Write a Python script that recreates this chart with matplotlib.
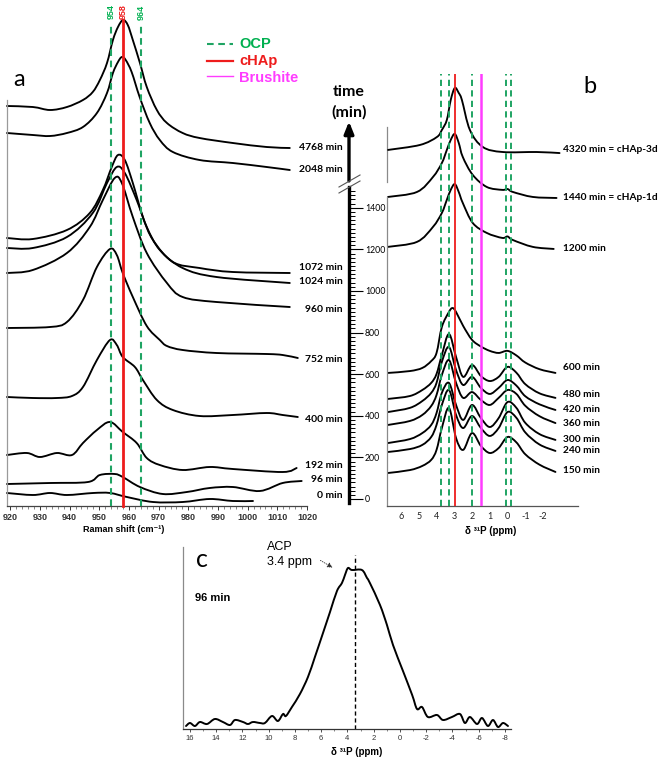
import matplotlib
matplotlib.use("Agg")
import matplotlib.pyplot as plt
from matplotlib.lines import Line2D
from matplotlib.path import Path
from matplotlib.patches import PathPatch, FancyArrowPatch
from matplotlib.ticker import MultipleLocator, FixedLocator
import numpy as np

# ---------------- data ----------------
# panel a : Raman spectra (x = Raman shift cm-1, y = stacked intensity, a.u.)
a_x_4768 = [918.9, 927.6, 933.4, 939.1, 944.5, 947.8, 950.2, 952.6, 954.6, 956.3, 958.0, 959.6, 961.3, 963.7, 966.0, 969.4, 972.8, 978.1, 983.8, 995.0, 1006.4, 1014.2]
a_y_4768 = [400, 399, 396, 399, 406, 414, 426, 443, 466, 479, 486, 481, 466, 443, 419, 396, 383, 373, 368, 363, 359, 358]
a_x_2048 = [918.9, 927.6, 933.4, 939.1, 944.5, 949.2, 952.6, 954.6, 956.3, 957.6, 958.9, 960.9, 963.6, 967.0, 970.4, 974.8, 983.8, 995.0, 1006.4, 1014.2]
a_y_2048 = [373, 371, 370, 373, 379, 393, 413, 433, 444, 449, 446, 434, 409, 383, 366, 354, 346, 343, 339, 336]
a_x_1072 = [918.9, 927.6, 939.1, 946.8, 951.2, 954.2, 956.3, 958.6, 961.3, 964.7, 968.1, 974.8, 983.8, 995.0, 1014.2]
a_y_1072 = [268, 267, 276, 293, 316, 339, 351, 346, 323, 289, 266, 244, 238, 234, 233]
a_x_1024 = [918.9, 927.6, 939.1, 947.8, 952.6, 955.9, 958.6, 962.6, 966.0, 970.4, 978.1, 989.5, 1014.2]
a_y_1024 = [258, 258, 269, 293, 323, 339, 333, 306, 279, 256, 238, 229, 223]
a_x_960 = [918.9, 927.6, 939.1, 946.8, 951.2, 955.2, 957.6, 961.3, 966.0, 972.8, 978.1, 989.5, 1014.2]
a_y_960 = [233, 236, 253, 279, 306, 328, 323, 289, 253, 223, 209, 204, 199]
a_x_752 = [918.9, 933.4, 939.1, 944.5, 949.2, 953.6, 955.9, 957.9, 961.3, 966.0, 970.4, 972.8, 978.1, 989.5, 1006.4, 1011.8, 1016.9]
a_y_752 = [178, 179, 184, 206, 239, 257, 251, 233, 209, 180, 166, 160, 156, 153, 152, 151, 148]
a_x_400 = [918.9, 927.6, 935.7, 940.8, 944.5, 949.2, 953.6, 955.9, 957.9, 962.0, 964.7, 969.4, 974.8, 983.8, 995.0, 1006.4, 1011.8, 1016.9]
a_y_400 = [109, 108, 108, 110, 119, 146, 166, 161, 149, 139, 126, 106, 96, 90, 91, 93, 91, 89]
a_x_192 = [918.9, 925.6, 930.0, 935.7, 940.8, 944.5, 949.2, 953.6, 957.9, 962.6, 966.0, 970.4, 978.1, 987.2, 995.0, 1011.8, 1016.5]
a_y_192 = [51, 53, 49, 53, 51, 63, 76, 84, 74, 63, 48, 41, 36, 39, 37, 34, 38]
a_x_96 = [918.9, 933.4, 946.2, 950.2, 955.2, 957.9, 963.7, 971.4, 979.5, 987.2, 995.0, 1004.1, 1011.8, 1018.2]
a_y_96 = [22, 23, 24, 31, 32, 29, 19, 12, 14, 18, 19, 15, 23, 25]
a_x_0 = [918.9, 927.6, 933.4, 939.1, 947.9, 953.6, 959.3, 968.1, 978.1, 987.2, 995.0, 1001.8]
a_y_0 = [13, 11, 13, 11, 13, 13, 9, 4, 4, 7, 5, 5]
a_labels = ["4768 min", "2048 min", "1072 min", "1024 min", "960 min", "752 min", "400 min", "192 min", "96 min", "0 min"]
a_label_y = [358, 336, 238, 224, 197, 146, 86, 40, 26, 11]
a_ticks = [920, 930, 940, 950, 960, 970, 980, 990, 1000, 1010, 1020]
a_ocp = [954, 964]
a_chap = 958

# panel b : 31P NMR spectra stacked on the time axis (x = ppm, y = time-scaled offset)
b_x_low = [6.73, 5.5, 4.8, 4.3, 4.0, 3.7, 3.3, 2.9, 2.5, 2.0, 1.5, 1.0, 0.5, 0.0, -0.5, -1.0, -1.8, -2.7]
b_y_150 = [125, 139, 159, 188, 236, 341, 438, 293, 236, 317, 255, 221, 245, 298, 272, 215, 165, 130]
b_y_240 = [226, 240, 260, 298, 356, 452, 524, 404, 341, 399, 341, 303, 341, 418, 390, 320, 262, 231]
b_y_300 = [269, 288, 317, 356, 413, 510, 558, 452, 380, 452, 389, 346, 389, 466, 438, 366, 312, 284]
b_y_360 = [356, 375, 404, 447, 500, 596, 668, 558, 486, 514, 476, 452, 486, 524, 505, 448, 398, 365]
b_y_420 = [418, 438, 471, 510, 558, 659, 731, 620, 548, 587, 534, 505, 534, 572, 545, 494, 455, 428]
b_y_480 = [481, 495, 524, 558, 601, 692, 793, 683, 587, 644, 591, 567, 587, 635, 607, 552, 508, 486]
b_x_600 = [6.73, 5.5, 4.8, 4.3, 4.0, 3.7, 3.3, 3.1, 2.9, 2.5, 2.0, 1.5, 1.0, 0.5, 0.0, -0.5, -1.0, -1.8, -2.7]
b_y_600 = [606, 615, 630, 663, 702, 827, 899, 918, 899, 832, 765, 733, 712, 702, 712, 690, 656, 624, 606]
b_x_1200 = [6.73, 5.1, 4.2, 3.7, 3.42, 3.2, 2.97, 2.75, 2.52, 1.96, 1.17, 0.3, 0.0, -0.3, -1.42, -2.6]
b_y_1200 = [1212, 1236, 1308, 1375, 1438, 1486, 1514, 1476, 1423, 1327, 1279, 1255, 1262, 1245, 1212, 1202]
b_x_1440 = [6.73, 5.1, 4.2, 3.7, 3.42, 3.2, 2.97, 2.75, 2.52, 1.96, 1.17, 0.3, 0.0, -0.3, -1.42, -2.76]
b_y_1440 = [1452, 1476, 1548, 1615, 1678, 1726, 1755, 1712, 1644, 1558, 1500, 1486, 1490, 1476, 1452, 1447]
b_x_4320 = [6.73, 4.93, 3.98, 3.7, 3.42, 3.2, 2.97, 2.75, 2.57, 2.12, 1.39, 0.27, -1.64, -2.93]
b_y_4320 = [1678, 1702, 1740, 1774, 1822, 1918, 1976, 1952, 1918, 1774, 1692, 1668, 1668, 1663]
b_labels = ["4320 min = cHAp-3d", "1440 min = cHAp-1d", "1200 min", "600 min", "480 min", "420 min", "360 min", "300 min", "240 min", "150 min"]
b_label_y = [1678, 1447, 1202, 630, 500, 428, 365, 288, 231, 135]
b_ticks = [6, 5, 4, 3, 2, 1, 0, -1, -2]
b_ocp = [3.75, 3.3, 2.0, 0.1, -0.2]
b_chap = 2.95
b_brushite = 1.5
time_major = [0, 200, 400, 600, 800, 1000, 1200, 1400]

# panel c : 31P NMR at 96 min
c_x = [16.3, 16.0, 15.62, 15.24, 14.7, 14.1, 13.49, 12.95, 12.57, 11.96, 11.58, 11.2, 10.67, 10.29, 9.75, 9.3, 8.91, 8.69, 8.23, 7.62, 7.01, 6.48, 5.94, 5.33, 4.8, 4.42, 4.19, 3.96, 3.66, 2.9, 2.51, 2.29, 1.52, 0.99, 0.53, -0.23, -0.93, -1.3, -1.68, -2.13, -2.82, -3.28, -3.96, -4.57, -4.95, -5.33, -5.87, -6.25, -6.7, -7.09, -7.47, -7.85, -8.23]
c_y = [3, 6, 3, 7, 5, 10, 7, 4, 9, 7, 5, 7, 6, 6, 13, 8, 15, 13, 22, 35, 52, 72, 93, 117, 138, 146, 154, 161, 159, 159, 151, 146, 124, 104, 84, 58, 34, 20, 22, 12, 14, 9, 12, 15, 6, 12, 5, 11, 3, 9, 2, 6, 3]
c_ticks = [16, 14, 12, 10, 8, 6, 4, 2, 0, -2, -4, -6, -8]
c_acp = 3.4

# ---------------- style ----------------
GREEN = "#1fa463"
GREEN_T = "#00b050"
RED = "#ee1c1c"
MAG = "#ff3cff"
LAB = "Lato"
ARIAL = ["Liberation Sans", "DejaVu Sans"]

W, H = 668, 770
fig = plt.figure(figsize=(W / 100, H / 100), dpi=100)
fig.patch.set_facecolor("white")


def rect(x0, y0, x1, y1):
    return [x0 / W, 1 - y1 / H, (x1 - x0) / W, (y1 - y0) / H]


def FX(px):
    return px / W


def FY(py):
    return 1 - py / H


def smooth_line(ax, xs, ys, lw=1.35, color="black", zorder=2):
    """Draw a smoothed line (Bezier through every data point, like a spreadsheet 'smoothed line')."""
    pts = np.column_stack([xs, ys]).astype(float)
    n = len(pts)
    verts = [pts[0]]
    codes = [Path.MOVETO]
    for i in range(n - 1):
        p0 = pts[i - 1] if i > 0 else pts[i]
        p1 = pts[i]
        p2 = pts[i + 1]
        p3 = pts[i + 2] if i + 2 < n else pts[i + 1]
        verts += [p1 + (p2 - p0) / 6.0, p2 - (p3 - p1) / 6.0, p2]
        codes += [Path.CURVE4] * 3
    patch = PathPatch(Path(verts, codes), fill=False, edgecolor=color, lw=lw,
                      joinstyle="round", capstyle="round", zorder=zorder, clip_on=False)
    ax.add_patch(patch)


# ================= panel a =================
axa = fig.add_axes(rect(7, 15, 307, 506))
axa.patch.set_visible(False)
axa.set_xlim(918.9, 1020)
axa.set_ylim(0, 491)
for s in ["top", "right"]:
    axa.spines[s].set_visible(False)
axa.spines["left"].set_bounds(0, 406)
axa.spines["left"].set_color("#9a9a9a")
axa.spines["left"].set_linewidth(0.9)
axa.spines["bottom"].set_color("#444444")
axa.spines["bottom"].set_linewidth(0.9)
axa.set_yticks([])
axa.set_xticks(a_ticks)
axa.set_xticklabels([str(t) for t in a_ticks], family=ARIAL, fontweight="bold", fontsize=6.5)
axa.xaxis.set_minor_locator(MultipleLocator(2))
axa.tick_params(axis="x", which="major", length=3, width=0.7, pad=2, colors="#333333")
axa.tick_params(axis="x", which="minor", length=1.8, width=0.5, colors="#555555")

a_curves = [(a_x_4768, a_y_4768), (a_x_2048, a_y_2048), (a_x_1072, a_y_1072), (a_x_1024, a_y_1024),
            (a_x_960, a_y_960), (a_x_752, a_y_752), (a_x_400, a_y_400), (a_x_192, a_y_192),
            (a_x_96, a_y_96), (a_x_0, a_y_0)]
for xs, ys in a_curves:
    smooth_line(axa, xs, ys)
for lab, ly in zip(a_labels, a_label_y):
    axa.text(1032, ly, lab, ha="right", va="center", family=LAB, fontweight="bold", fontsize=7.5)

for v in a_ocp:
    axa.plot([v, v], [0, 481], color=GREEN, lw=1.5, dashes=(3.2, 2.2), zorder=3, clip_on=False)
axa.plot([a_chap, a_chap], [0, 486], color=RED, lw=2.0, zorder=3, clip_on=False)
for v, c in [(a_ocp[0], GREEN_T), (a_chap, RED), (a_ocp[1], GREEN_T)]:
    axa.text(v, 494, str(v), rotation=90, ha="center", va="center", color=c,
             family=ARIAL, fontweight="bold", fontsize=6.5)

fig.text(FX(124), FY(529), "Raman shift (cm\u207b\u00b9)", ha="center", va="center",
         family=ARIAL, fontweight="bold", fontsize=6.5)
fig.text(FX(13), FY(86), "a", ha="left", va="baseline", family=LAB, fontsize=17)

# legend
for py, col, st, lw in [(44, GREEN, "dash", 1.5), (61, RED, "solid", 1.6), (76, MAG, "solid", 1.0)]:
    ln = Line2D([FX(207), FX(233)], [FY(py), FY(py)], transform=fig.transFigure, color=col, lw=lw)
    if st == "dash":
        ln.set_dashes((3.2, 2.2))
    fig.add_artist(ln)
for py, txt, col in [(44, "OCP", GREEN_T), (61, "cHAp", RED), (78, "Brushite", MAG)]:
    fig.text(FX(239), FY(py), txt, color=col, ha="left", va="center", family=ARIAL,
             fontweight="bold", fontsize=10.5)

# ================= panel b =================
B_YLIM = (-33.7, 2043)
axb = fig.add_axes(rect(387, 74, 578, 506))
axb.patch.set_visible(False)
axb.set_xlim(6.79, -3.97)
axb.set_ylim(*B_YLIM)
for s in ["top", "right"]:
    axb.spines[s].set_visible(False)
axb.spines["left"].set_bounds(B_YLIM[0], 1452)
axb.spines["left"].set_color("#8a8a8a")
axb.spines["left"].set_linewidth(0.9)
axb.spines["bottom"].set_color("#555555")
axb.spines["bottom"].set_linewidth(0.9)
axb.plot([6.79, 6.79], [1524, 1789], color="#8a8a8a", lw=0.9, clip_on=False)
axb.set_yticks([])
axb.set_xticks(b_ticks)
axb.set_xticklabels([str(t) for t in b_ticks], family=LAB, fontsize=6.5)
axb.tick_params(axis="x", length=0, pad=4, colors="#222222")

for v in b_ocp:
    axb.plot([v, v], list(B_YLIM), color=GREEN, lw=1.4, dashes=(3.2, 2.2), zorder=3, clip_on=False)
axb.plot([b_chap, b_chap], list(B_YLIM), color=RED, lw=1.3, zorder=3)
axb.plot([b_brushite, b_brushite], list(B_YLIM), color=MAG, lw=1.8, zorder=3)

b_curves = [(b_x_low, b_y_150), (b_x_low, b_y_240), (b_x_low, b_y_300), (b_x_low, b_y_360),
            (b_x_low, b_y_420), (b_x_low, b_y_480), (b_x_600, b_y_600), (b_x_1200, b_y_1200),
            (b_x_1440, b_y_1440), (b_x_4320, b_y_4320)]
for xs, ys in b_curves:
    smooth_line(axb, xs, ys)
for lab, ly in zip(b_labels, b_label_y):
    axb.text(-3.12, ly, lab, ha="left", va="center", family=LAB, fontweight="bold", fontsize=7.3)

fig.text(FX(491), FY(531), "\u03b4 \u00b3\u00b9P (ppm)", ha="center", va="center",
         family=ARIAL, fontweight="bold", fontsize=7)
fig.text(FX(583), FY(93), "b", ha="left", va="baseline", family=LAB, fontsize=17)

# ---- time axis ----
axt = fig.add_axes(rect(348, 74, 349, 506))
axt.patch.set_visible(False)
axt.set_ylim(*B_YLIM)
axt.set_xlim(0, 1)
for s in ["top", "left", "bottom"]:
    axt.spines[s].set_visible(False)
axt.spines["right"].set_bounds(-19, 1500)
axt.spines["right"].set_linewidth(2.4)
axt.set_xticks([])
axt.yaxis.tick_right()
axt.yaxis.set_major_locator(FixedLocator(time_major))
axt.yaxis.set_minor_locator(FixedLocator(np.arange(0, 1500, 20)))
axt.set_yticklabels([str(t) for t in time_major], family=LAB, fontsize=6.3)
axt.tick_params(axis="y", which="major", length=10, width=0.8, pad=1.5, direction="out")
axt.tick_params(axis="y", which="minor", length=4, width=0.7, direction="out")
axt.annotate("", xy=(1, 1815), xytext=(1, 1529), xycoords=axt.get_yaxis_transform(),
             textcoords=axt.get_yaxis_transform(),
             arrowprops=dict(arrowstyle="-|>,head_width=0.28,head_length=0.7", lw=2.4,
                             color="black", shrinkA=0, shrinkB=0, mutation_scale=10))
for (x0, y0, x1, y1) in [(339, 193, 360, 181), (339, 187, 360, 175)]:
    fig.add_artist(Line2D([FX(x0), FX(x1)], [FY(y0), FY(y1)], transform=fig.transFigure,
                          color="#555555", lw=0.8))
fig.text(FX(349), FY(96), "time", ha="center", va="baseline", family=LAB, fontweight="bold", fontsize=11.5)
fig.text(FX(349), FY(117), "(min)", ha="center", va="baseline", family=LAB, fontweight="bold", fontsize=11.5)

# ================= panel c =================
axc = fig.add_axes(rect(183, 547, 511, 729))
axc.patch.set_visible(False)
axc.set_xlim(16.53, -8.46)
axc.set_ylim(0, 182)
for s in ["top", "right"]:
    axc.spines[s].set_visible(False)
axc.spines["left"].set_color("#8a8a8a")
axc.spines["left"].set_linewidth(0.9)
axc.spines["bottom"].set_color("#333333")
axc.spines["bottom"].set_linewidth(0.9)
axc.set_yticks([])
axc.set_xticks(c_ticks)
axc.set_xticklabels([str(t) for t in c_ticks], family=ARIAL, fontsize=5.5)
axc.xaxis.set_minor_locator(MultipleLocator(1))
axc.tick_params(axis="x", which="major", length=2.5, width=0.6, pad=2, colors="#333333")
axc.tick_params(axis="x", which="minor", length=1.2, width=0.5, colors="#555555")
smooth_line(axc, c_x, c_y, lw=1.4)
axc.plot([c_acp, c_acp], [0, 174], color="black", lw=1.0, dashes=(3, 2))
fig.text(FX(357), FY(752), "\u03b4 \u00b3\u00b9P (ppm)", ha="center", va="center",
         family=ARIAL, fontweight="bold", fontsize=7)
fig.text(FX(196), FY(567), "c", ha="left", va="baseline", family=LAB, fontsize=18)
fig.text(FX(195), FY(598), "96 min", ha="left", va="center", family=ARIAL, fontweight="bold", fontsize=8)
fig.text(FX(267), FY(547), "ACP", ha="left", va="center", family=ARIAL, fontsize=9)
fig.text(FX(267), FY(562), "3.4 ppm", ha="left", va="center", family=ARIAL, fontsize=9)
fig.add_artist(FancyArrowPatch((FX(318), FY(559)), (FX(335), FY(569)),
                               transform=fig.transFigure,
                               arrowstyle="-|>,head_width=1.5,head_length=3",
                               lw=0.6, linestyle=":", color="#333333"))

fig.savefig("out.png", dpi=100, facecolor="white")
